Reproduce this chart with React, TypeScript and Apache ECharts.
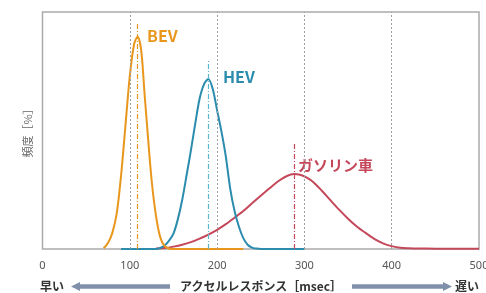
import React, { useEffect, useRef } from "react";
import * as echarts from "echarts";

const xTicks = [0, 100, 200, 300, 400, 500];
const gridLinesX = [100, 200, 300, 400];

const bevX = [70, 75, 80, 85, 90, 95, 100, 105, 109, 113, 117, 120, 125, 130, 135, 140, 145, 150, 230];
const bevY = [0.3, 2.5, 6.8, 15, 31, 52, 73, 86.5, 89.6, 84, 65, 51, 29, 14, 4.8, 1.2, 0.2, 0, 0];

const hevX = [90, 130, 135, 140, 145, 150, 155, 160, 165, 170, 175, 180, 185, 190, 195, 200, 205, 210, 215, 220, 225, 230, 235, 240, 245, 250, 300];
const hevY = [0, 0, 0.5, 1.5, 3.5, 6.5, 12.5, 20.7, 31, 41.6, 53, 63.5, 69.5, 71.7, 67.5, 58.5, 49.5, 39, 25.5, 16, 9.4, 4.6, 1.8, 0.6, 0.2, 0, 0];

const gasX = [130, 140, 150, 160, 170, 180, 190, 200, 210, 220, 230, 240, 250, 260, 270, 280, 288, 295, 300, 310, 320, 330, 340, 350, 360, 370, 380, 390, 400, 410, 420, 430, 450, 500];
const gasY = [0.2, 0.4, 1.0, 1.8, 2.9, 4.4, 6.1, 8.1, 10.5, 13.2, 16.0, 19.3, 22.5, 25.6, 28.6, 30.8, 31.6, 31.3, 30.6, 28.3, 24.6, 20.5, 16.5, 12.8, 9.5, 6.8, 4.3, 2.4, 1.2, 0.5, 0.3, 0.2, 0.15, 0.15];

const peaks = { bev: [109, 95.2], hev: [190, 79.7], gas: [288, 44.3] };

const zip = (xs: number[], ys: number[]) => xs.map((x, i) => [x, ys[i]]);

const ORANGE = "#E8971C";
const TEAL = "#2B8CAE";
const TEAL_LIGHT = "#5BB6D3";
const RED = "#C4485A";
const ARROW = "#8090AA";
const FONT = "'Noto Sans CJK JP', 'Noto Sans', sans-serif";

export default function App() {
  const ref = useRef<HTMLDivElement>(null);
  useEffect(() => {
    if (!ref.current) return;
    const chart = echarts.init(ref.current, undefined, { renderer: "svg" });
    const peakLine = (p: number[], color: string) => ({
      silent: true,
      symbol: "none",
      label: { show: false },
      lineStyle: { color, width: 1.2, type: [5, 2, 1, 2] },
      data: [[{ coord: [p[0], 0] }, { coord: [p[0], p[1]] }]],
    });
    const curve = (xs: number[], ys: number[], color: string, peak: number[], markColor: string) => ({
      type: "line",
      data: zip(xs, ys),
      showSymbol: false,
      smooth: 0.3,
      lineStyle: { color, width: 2 },
      itemStyle: { color },
      markLine: peakLine(peak, markColor),
    });
    const bottomText = (x: number, text: string) => ({
      type: "text",
      x,
      y: 285.5,
      style: { text, fill: "#333", font: `bold 12px ${FONT}`, lineHeight: 12, verticalAlign: "middle" },
    });
    chart.setOption({
      animation: false,
      grid: {
        left: 42.5,
        right: 7,
        top: 12,
        bottom: 44,
        outerBoundsMode: "none",
        containLabel: false,
        show: true,
        borderColor: "#aaaaaa",
        borderWidth: 1.5,
      },
      xAxis: {
        type: "value",
        min: 0,
        max: 500,
        interval: 100,
        axisLine: { show: false },
        axisTick: { show: false },
        splitLine: { show: false },
        axisLabel: {
          color: "#555",
          fontSize: 11,
          margin: 10,
          fontFamily: "'Noto Sans', sans-serif",
          formatter: (v: number) => (xTicks.includes(v) ? String(v) : ""),
        },
      },
      yAxis: {
        type: "value",
        min: 0,
        max: 100,
        axisLine: { show: false },
        axisTick: { show: false },
        axisLabel: { show: false },
        splitLine: { show: false },
        name: "頻度［%］",
        nameLocation: "middle",
        nameGap: 10,
        nameTextStyle: { color: "#666", fontSize: 11, fontFamily: FONT },
      },
      series: [
        {
          type: "line",
          data: [],
          markLine: {
            silent: true,
            symbol: "none",
            label: { show: false },
            lineStyle: { color: "#a0a0a0", width: 1, type: [2, 2] },
            data: gridLinesX.map((x) => ({ xAxis: x })),
          },
        },
        curve(gasX, gasY, RED, peaks.gas, RED),
        curve(hevX, hevY, TEAL, peaks.hev, TEAL_LIGHT),
        curve(bevX, bevY, ORANGE, peaks.bev, ORANGE),
      ],
      graphic: [
        { type: "text", x: 147, y: 35, style: { text: "BEV", fill: ORANGE, font: `bold 16px ${FONT}`, verticalAlign: "middle" } },
        { type: "text", x: 223, y: 76, style: { text: "HEV", fill: TEAL, font: `bold 16px ${FONT}`, verticalAlign: "middle" } },
        { type: "text", x: 298, y: 164, style: { text: "ガソリン車", fill: RED, font: `bold 15px ${FONT}`, verticalAlign: "middle" } },
        bottomText(40, "早い"),
        bottomText(180, "アクセルレスポンス［msec］"),
        bottomText(455, "遅い"),
        { type: "line", shape: { x1: 78, y1: 286.5, x2: 170, y2: 286.5 }, style: { stroke: ARROW, lineWidth: 4.5 } },
        { type: "polygon", shape: { points: [[71, 286.5], [80, 282], [80, 291]] }, style: { fill: ARROW } },
        { type: "line", shape: { x1: 352, y1: 286.5, x2: 444, y2: 286.5 }, style: { stroke: ARROW, lineWidth: 4.5 } },
        { type: "polygon", shape: { points: [[452, 286.5], [443, 282], [443, 291]] }, style: { fill: ARROW } },
      ],
    });
    return () => chart.dispose();
  }, []);
  return <div ref={ref} style={{ position: "fixed", left: 0, top: 0, width: 486, height: 293 }} />;
}
